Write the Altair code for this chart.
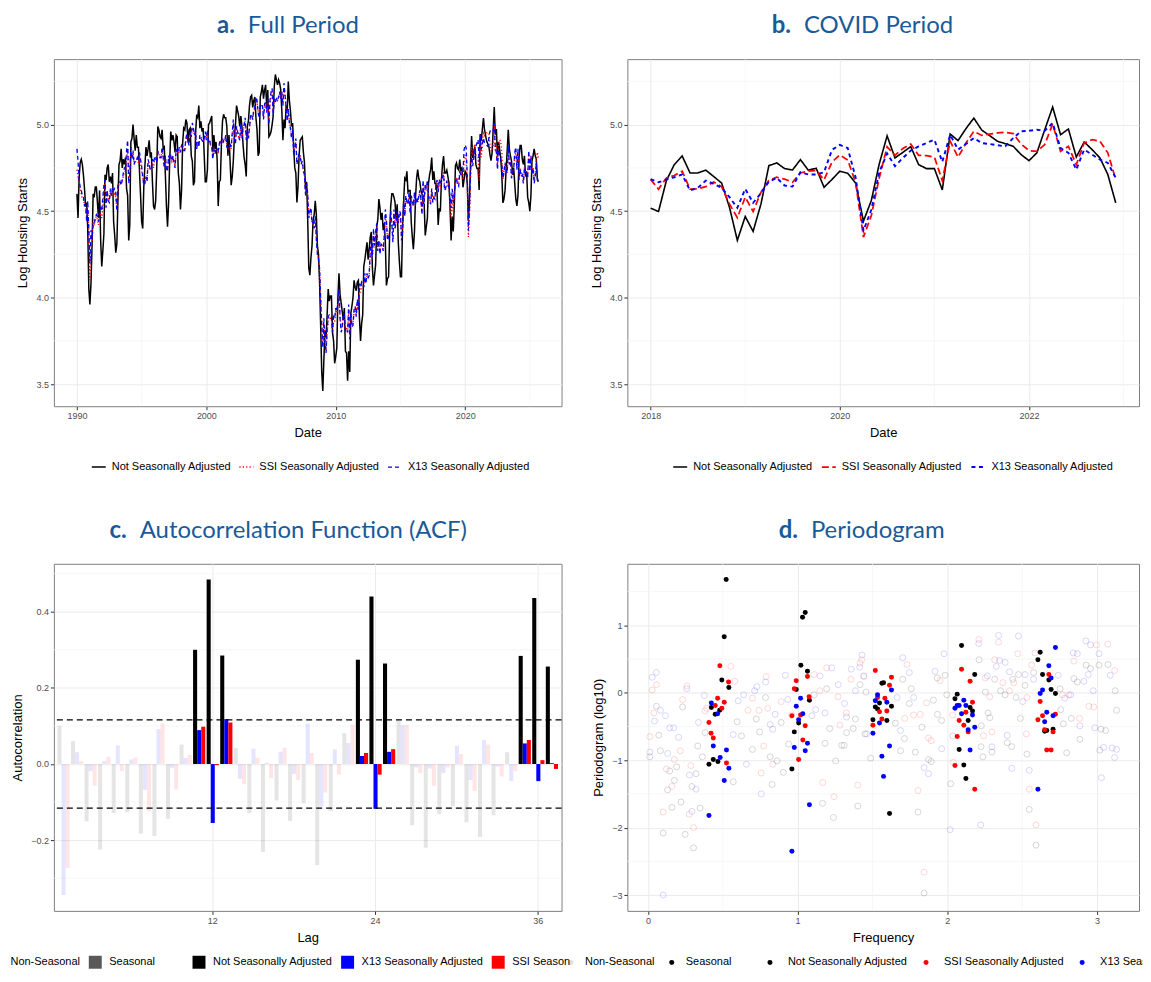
import altair as alt
import pandas as pd

# ------------------------------------------------------------------ styling
AX_FONT = "Liberation Sans"
TITLE_FONT = "Lato"
TITLE_COLOR = "#1a5a99"
MAJOR_GRID = "#ebebeb"
MINOR_GRID = "#f4f4f4"

S_NSA = "Not Seasonally Adjusted"
S_SSI = "SSI Seasonally Adjusted"
S_X13 = "X13 Seasonally Adjusted"
K_NON = "Non-Seasonal"
K_SEA = "Seasonal"

# ------------------------------------------------------------------ data
# Log housing starts, monthly, starting January 1990
START_YEAR = 1990
nsa_log = [
    4.60, 4.46, 4.69, 4.78, 4.80, 4.77, 4.71, 4.63, 4.53, 4.55, 4.40, 4.05,
    3.96, 4.08, 4.30, 4.60, 4.58, 4.64, 4.64, 4.55, 4.46, 4.62, 4.33, 4.18,
    4.27, 4.37, 4.71, 4.68, 4.75, 4.77, 4.67, 4.70, 4.66, 4.72, 4.44, 4.36,
    4.26, 4.31, 4.56, 4.77, 4.79, 4.86, 4.75, 4.80, 4.77, 4.81, 4.63, 4.59,
    4.33, 4.42, 4.90, 4.92, 5.00, 4.92, 4.85, 4.94, 4.87, 4.87, 4.73, 4.59,
    4.44, 4.40, 4.64, 4.76, 4.87, 4.82, 4.86, 4.91, 4.81, 4.84, 4.67, 4.53,
    4.51, 4.56, 4.75, 4.99, 4.97, 4.93, 4.92, 4.97, 4.86, 4.87, 4.71, 4.53,
    4.41, 4.55, 4.79, 4.96, 4.91, 4.94, 4.90, 4.84, 4.94, 4.93, 4.72, 4.66,
    4.51, 4.62, 4.89, 4.98, 4.97, 5.03, 5.01, 4.90, 4.97, 4.98, 4.82, 4.79,
    4.65, 4.67, 4.95, 5.05, 5.04, 5.11, 4.98, 5.02, 4.96, 4.98, 4.83, 4.67,
    4.67, 4.74, 5.00, 5.01, 5.03, 5.05, 4.84, 4.94, 4.86, 4.90, 4.80, 4.53,
    4.67, 4.68, 4.89, 5.02, 5.06, 5.04, 5.04, 4.99, 4.82, 4.94, 4.79, 4.65,
    4.70, 4.79, 4.93, 5.00, 5.11, 5.08, 5.05, 4.99, 5.05, 4.99, 4.89, 4.81,
    4.77, 4.70, 4.99, 5.02, 5.11, 5.16, 5.17, 5.10, 5.14, 5.16, 5.04, 4.97,
    4.82, 4.84, 5.16, 5.19, 5.23, 5.15, 5.20, 5.23, 5.10, 5.20, 4.93, 4.94,
    4.96, 5.00, 5.05, 5.22, 5.29, 5.26, 5.23, 5.26, 5.24, 5.20, 5.08, 4.91,
    5.03, 4.98, 5.11, 5.08, 5.25, 5.14, 5.08, 4.99, 5.01, 4.87, 4.75, 4.72,
    4.55, 4.64, 4.82, 4.91, 4.92, 4.93, 4.84, 4.78, 4.63, 4.67, 4.45, 4.17,
    4.13, 4.23, 4.30, 4.45, 4.48, 4.56, 4.48, 4.30, 4.25, 4.09, 3.84, 3.57,
    3.46, 3.64, 3.81, 3.77, 3.90, 4.05, 3.98, 4.01, 4.01, 3.80, 3.75, 3.62,
    3.66, 3.71, 4.00, 4.14, 4.02, 3.97, 3.92, 3.87, 3.94, 3.69, 3.68, 3.52,
    3.69, 3.57, 3.91, 3.95, 4.00, 4.10, 4.06, 4.04, 4.09, 4.10, 3.88, 3.75,
    3.85, 3.90, 4.18, 4.22, 4.27, 4.32, 4.22, 4.28, 4.35, 4.38, 4.17, 4.07,
    4.13, 4.19, 4.41, 4.45, 4.57, 4.52, 4.45, 4.49, 4.39, 4.43, 4.32, 4.07,
    4.11, 4.12, 4.37, 4.53, 4.60, 4.60, 4.58, 4.55, 4.45, 4.54, 4.32, 4.21,
    4.12, 4.12, 4.42, 4.56, 4.69, 4.68, 4.73, 4.61, 4.62, 4.62, 4.44, 4.35,
    4.28, 4.38, 4.58, 4.69, 4.74, 4.69, 4.67, 4.62, 4.60, 4.55, 4.54, 4.36,
    4.41, 4.46, 4.66, 4.71, 4.74, 4.81, 4.68, 4.73, 4.66, 4.66, 4.60, 4.42,
    4.517, 4.498, 4.677, 4.769, 4.819, 4.721, 4.721, 4.737, 4.700, 4.663, 4.523, 4.331,
    4.469, 4.383, 4.542, 4.763, 4.779, 4.746, 4.738, 4.798, 4.737, 4.748, 4.638, 4.683,
    4.731, 4.719, 4.663, 4.442, 4.562, 4.773, 4.935, 4.808, 4.840, 4.873, 4.769, 4.746,
    4.746, 4.623, 4.946, 4.908, 4.977, 5.038, 4.969, 4.937, 4.904, 4.890, 4.875, 4.827,
    4.792, 4.837, 4.971, 5.102, 4.942, 4.975, 4.813, 4.900, 4.856, 4.808, 4.712, 4.548,
    4.57, 4.62, 4.74, 4.85, 4.97, 4.86, 4.82, 4.79, 4.71, 4.75, 4.66, 4.57,
    4.53, 4.59, 4.81, 4.88, 4.88, 4.80, 4.77, 4.82, 4.70, 4.73, 4.58, 4.55,
    4.50, 4.59, 4.79, 4.82, 4.86, 4.82, 4.80, 4.68, 4.67,
]
ssi_log = [
    4.74, 4.70, 4.66, 4.63, 4.60, 4.57, 4.57, 4.54, 4.52, 4.47, 4.50, 4.40,
    4.10, 4.28, 4.33, 4.45, 4.43, 4.46, 4.47, 4.45, 4.42, 4.49, 4.48, 4.46,
    4.53, 4.61, 4.66, 4.55, 4.62, 4.57, 4.56, 4.61, 4.59, 4.63, 4.59, 4.60,
    4.58, 4.51, 4.62, 4.66, 4.66, 4.66, 4.68, 4.70, 4.73, 4.73, 4.80, 4.86,
    4.68, 4.72, 4.84, 4.82, 4.84, 4.78, 4.78, 4.80, 4.80, 4.78, 4.82, 4.78,
    4.73, 4.70, 4.66, 4.67, 4.70, 4.68, 4.78, 4.78, 4.74, 4.74, 4.78, 4.75,
    4.80, 4.80, 4.79, 4.85, 4.83, 4.81, 4.81, 4.86, 4.81, 4.76, 4.80, 4.73,
    4.74, 4.80, 4.81, 4.82, 4.79, 4.81, 4.79, 4.76, 4.85, 4.84, 4.83, 4.85,
    4.85, 4.88, 4.88, 4.86, 4.85, 4.91, 4.94, 4.90, 4.89, 4.95, 4.93, 4.98,
    4.97, 4.94, 4.96, 4.88, 4.90, 4.88, 4.93, 4.93, 4.91, 4.90, 4.92, 4.94,
    4.92, 4.96, 4.91, 4.91, 4.88, 4.87, 4.82, 4.86, 4.84, 4.86, 4.86, 4.83,
    4.88, 4.90, 4.89, 4.92, 4.90, 4.91, 4.93, 4.88, 4.86, 4.86, 4.88, 4.86,
    4.94, 5.00, 4.93, 4.90, 4.98, 4.96, 4.93, 4.92, 5.00, 4.93, 4.97, 4.99,
    5.02, 4.93, 4.97, 4.93, 4.98, 5.04, 5.06, 5.03, 5.08, 5.09, 5.14, 5.13,
    5.08, 5.06, 5.11, 5.11, 5.11, 5.04, 5.11, 5.13, 5.08, 5.14, 5.02, 5.12,
    5.17, 5.19, 5.08, 5.15, 5.14, 5.15, 5.14, 5.16, 5.18, 5.15, 5.18, 5.12,
    5.21, 5.17, 5.11, 5.04, 5.09, 5.02, 4.98, 4.93, 4.96, 4.84, 4.86, 4.90,
    4.78, 4.80, 4.82, 4.82, 4.78, 4.78, 4.73, 4.71, 4.61, 4.65, 4.60, 4.48,
    4.49, 4.50, 4.43, 4.43, 4.40, 4.45, 4.34, 4.26, 4.22, 4.16, 4.00, 3.86,
    3.72, 3.84, 3.76, 3.70, 3.80, 3.87, 3.89, 3.88, 3.88, 3.80, 3.86, 3.86,
    3.92, 3.91, 3.96, 4.02, 3.89, 3.82, 3.83, 3.90, 3.89, 3.82, 3.82, 3.80,
    3.93, 3.79, 3.90, 3.85, 3.85, 3.92, 3.94, 3.90, 3.97, 3.93, 4.05, 4.03,
    4.07, 4.06, 4.07, 4.12, 4.09, 4.13, 4.11, 4.13, 4.24, 4.30, 4.24, 4.36,
    4.29, 4.35, 4.41, 4.29, 4.33, 4.27, 4.31, 4.30, 4.28, 4.35, 4.47, 4.43,
    4.34, 4.35, 4.39, 4.47, 4.43, 4.34, 4.49, 4.40, 4.44, 4.48, 4.43, 4.48,
    4.48, 4.36, 4.40, 4.55, 4.48, 4.58, 4.55, 4.54, 4.59, 4.50, 4.57, 4.55,
    4.53, 4.59, 4.54, 4.57, 4.55, 4.58, 4.61, 4.56, 4.50, 4.66, 4.56, 4.64,
    4.62, 4.66, 4.60, 4.57, 4.55, 4.62, 4.56, 4.58, 4.58, 4.65, 4.67, 4.62,
    4.683, 4.627, 4.692, 4.706, 4.731, 4.627, 4.629, 4.642, 4.669, 4.642, 4.542, 4.462,
    4.581, 4.498, 4.610, 4.677, 4.696, 4.685, 4.667, 4.721, 4.731, 4.735, 4.681, 4.783,
    4.825, 4.796, 4.667, 4.350, 4.475, 4.692, 4.872, 4.823, 4.862, 4.888, 4.823, 4.821,
    4.812, 4.677, 4.904, 4.812, 4.894, 4.962, 4.938, 4.946, 4.952, 4.956, 4.948, 4.888,
    4.850, 4.846, 4.885, 5.004, 4.846, 4.875, 4.769, 4.894, 4.913, 4.904, 4.837, 4.683,
    4.73, 4.77, 4.75, 4.73, 4.86, 4.77, 4.79, 4.70, 4.73, 4.75, 4.82, 4.84,
    4.75, 4.84, 4.70, 4.75, 4.72, 4.72, 4.68, 4.75, 4.73, 4.73, 4.71, 4.83,
    4.74, 4.81, 4.72, 4.75, 4.68, 4.71, 4.80, 4.84, 4.80,
]
x13_log = [
    4.86, 4.79, 4.68, 4.64, 4.62, 4.59, 4.58, 4.53, 4.53, 4.44, 4.56, 4.39,
    4.20, 4.39, 4.34, 4.42, 4.42, 4.46, 4.48, 4.47, 4.44, 4.50, 4.52, 4.50,
    4.58, 4.65, 4.68, 4.52, 4.62, 4.56, 4.55, 4.63, 4.59, 4.64, 4.62, 4.63,
    4.61, 4.50, 4.65, 4.65, 4.67, 4.65, 4.68, 4.72, 4.75, 4.74, 4.85, 4.91,
    4.66, 4.71, 4.87, 4.80, 4.85, 4.77, 4.79, 4.79, 4.81, 4.79, 4.84, 4.80,
    4.76, 4.70, 4.65, 4.66, 4.70, 4.67, 4.80, 4.77, 4.74, 4.74, 4.80, 4.78,
    4.81, 4.82, 4.78, 4.84, 4.83, 4.81, 4.81, 4.87, 4.81, 4.75, 4.82, 4.74,
    4.73, 4.82, 4.80, 4.82, 4.79, 4.82, 4.78, 4.75, 4.86, 4.84, 4.84, 4.87,
    4.84, 4.88, 4.87, 4.85, 4.85, 4.92, 4.95, 4.90, 4.88, 4.96, 4.93, 5.01,
    4.98, 4.94, 4.96, 4.86, 4.90, 4.87, 4.94, 4.92, 4.91, 4.90, 4.92, 4.96,
    4.91, 4.97, 4.90, 4.91, 4.88, 4.87, 4.80, 4.86, 4.83, 4.86, 4.86, 4.85,
    4.89, 4.91, 4.89, 4.92, 4.90, 4.91, 4.94, 4.87, 4.87, 4.85, 4.89, 4.87,
    4.95, 5.03, 4.92, 4.89, 4.99, 4.96, 4.93, 4.91, 5.01, 4.92, 4.98, 5.00,
    5.04, 4.91, 4.97, 4.92, 4.98, 5.05, 5.06, 5.03, 5.09, 5.10, 5.16, 5.14,
    5.07, 5.04, 5.11, 5.12, 5.11, 5.03, 5.12, 5.13, 5.07, 5.15, 5.00, 5.14,
    5.19, 5.21, 5.05, 5.15, 5.13, 5.15, 5.14, 5.16, 5.19, 5.15, 5.19, 5.11,
    5.24, 5.17, 5.10, 5.02, 5.09, 5.01, 4.98, 4.92, 4.97, 4.82, 4.87, 4.92,
    4.77, 4.81, 4.83, 4.82, 4.77, 4.79, 4.73, 4.71, 4.59, 4.66, 4.60, 4.46,
    4.50, 4.52, 4.43, 4.44, 4.40, 4.47, 4.34, 4.25, 4.22, 4.17, 3.99, 3.84,
    3.71, 3.88, 3.74, 3.68, 3.81, 3.89, 3.90, 3.89, 3.89, 3.80, 3.89, 3.88,
    3.94, 3.92, 3.97, 4.05, 3.88, 3.80, 3.82, 3.91, 3.90, 3.81, 3.82, 3.80,
    3.96, 3.76, 3.91, 3.83, 3.84, 3.93, 3.95, 3.89, 3.99, 3.93, 4.08, 4.06,
    4.09, 4.08, 4.06, 4.14, 4.08, 4.14, 4.11, 4.13, 4.27, 4.33, 4.24, 4.40,
    4.30, 4.38, 4.43, 4.27, 4.33, 4.25, 4.31, 4.30, 4.27, 4.36, 4.51, 4.45,
    4.33, 4.35, 4.39, 4.50, 4.43, 4.32, 4.51, 4.40, 4.44, 4.50, 4.43, 4.50,
    4.49, 4.33, 4.38, 4.57, 4.47, 4.59, 4.55, 4.54, 4.61, 4.49, 4.59, 4.56,
    4.53, 4.61, 4.53, 4.58, 4.55, 4.59, 4.62, 4.56, 4.48, 4.68, 4.55, 4.66,
    4.63, 4.68, 4.59, 4.56, 4.54, 4.63, 4.55, 4.58, 4.57, 4.66, 4.68, 4.61,
    4.685, 4.667, 4.683, 4.696, 4.712, 4.619, 4.635, 4.677, 4.658, 4.635, 4.581, 4.519,
    4.629, 4.548, 4.604, 4.671, 4.692, 4.648, 4.642, 4.725, 4.712, 4.712, 4.725, 4.854,
    4.883, 4.865, 4.696, 4.388, 4.508, 4.725, 4.834, 4.760, 4.808, 4.850, 4.875, 4.894,
    4.913, 4.785, 4.942, 4.856, 4.888, 4.923, 4.894, 4.888, 4.881, 4.875, 4.923, 4.962,
    4.965, 4.971, 4.965, 5.010, 4.865, 4.837, 4.740, 4.856, 4.827, 4.798, 4.779, 4.692,
    4.72, 4.78, 4.74, 4.72, 4.88, 4.77, 4.79, 4.69, 4.73, 4.74, 4.84, 4.87,
    4.74, 4.86, 4.68, 4.74, 4.70, 4.71, 4.66, 4.74, 4.73, 4.72, 4.69, 4.85,
    4.73, 4.82, 4.71, 4.75, 4.66, 4.70, 4.78, 4.69, 4.67,
]
COVID_FROM, COVID_TO = 2018, 2023   # panel b shows Jan 2018 - Dec 2022

# Autocorrelation function, lags 1..37
acf_lags = list(range(1, 38))
acf_nsa = [0.100, 0.060, -0.151, -0.225, -0.129, -0.127, -0.183, -0.189, -0.144, 0.051,
           0.300, 0.485, 0.285, 0.042, -0.129, -0.231, -0.096, -0.150, -0.103, -0.266,
           -0.124, 0.081, 0.274, 0.440, 0.264, 0.113, -0.161, -0.220, -0.132, -0.112,
           -0.153, -0.192, -0.135, 0.031, 0.284, 0.436, 0.256]
acf_x13 = [-0.344, 0.031, -0.019, 0.007, 0.049, 0.012, -0.068, 0.092, -0.010, 0.016,
           0.089, -0.155, 0.118, -0.039, 0.040, 0.003, 0.032, -0.026, 0.106, -0.112,
           0.038, 0.055, 0.021, -0.118, 0.032, 0.102, -0.009, -0.012, -0.024, 0.048,
           -0.042, 0.063, -0.007, -0.045, 0.054, -0.045, 0.002]
acf_ssi = [-0.273, 0.008, -0.057, 0.019, -0.019, 0.017, -0.124, 0.107, -0.067, 0.024,
           0.098, -0.003, 0.109, -0.053, 0.016, -0.037, 0.043, -0.042, 0.029, -0.075,
           -0.028, 0.102, 0.029, -0.028, 0.039, 0.102, -0.024, -0.057, -0.009, 0.026,
           -0.071, 0.051, -0.033, -0.019, 0.063, 0.010, -0.013]
seasonal_lags = [11, 12, 13, 23, 24, 25, 35, 36, 37]
acf_ci = 0.116

# Periodogram (log10) points: (frequency, value)
pg_nsa_seasonal = [
    (0.523, 1.68), (0.510, 0.83), (0.494, 0.19), (0.541, 0.08), (0.424, -0.22), (0.450, -0.32),
    (0.480, -0.26), (0.408, -1.06), (0.437, -0.99), (0.468, -1.02),
    (1.033, 1.12), (1.051, 1.19), (1.022, 0.41), (1.066, 0.32), (0.991, 0.05), (1.079, -0.11),
    (1.007, -0.45), (0.978, -0.58), (0.962, -1.13),
    (1.563, 0.14), (1.574, 0.15), (1.519, -0.21), (1.534, -0.24), (1.547, -0.15), (1.503, -0.40),
    (1.627, -0.20), (1.596, -0.41), (1.614, -1.79),
    (2.095, 0.70), (2.183, 0.27), (2.066, -0.02), (2.051, -0.09), (2.152, -0.22), (2.168, -0.27),
    (2.139, -0.41), (2.079, -0.84), (2.110, -1.07), (2.124, -1.27),
    (2.620, 0.60), (2.605, 0.49), (2.636, 0.27), (2.678, 0.19), (2.693, 0.05), (2.722, -0.01),
    (2.650, -0.57), (2.664, -0.56), (2.706, -0.54),
]
pg_ssi_seasonal = [
    (0.481, 0.40), (0.539, 0.16), (0.466, -0.08), (0.510, -0.14), (0.450, -0.19), (0.494, -0.23),
    (0.408, -0.44), (0.422, -0.60), (0.437, -0.67), (0.525, -1.04),
    (0.991, 0.18), (1.066, 0.24), (0.978, 0.06), (1.077, -0.06), (0.962, -0.34), (1.020, -0.33),
    (1.051, -0.49), (1.035, -0.70), (1.007, -0.99),
    (1.519, 0.33), (1.534, -0.07), (1.547, -0.28), (1.563, -0.39), (1.503, -0.48), (1.627, 0.23),
    (1.614, 0.11), (1.583, -0.08), (1.596, -0.27),
    (2.095, 0.35), (2.152, 0.17), (2.168, -0.14), (2.124, -0.29), (2.079, -0.41), (2.110, -0.48),
    (2.139, -0.58), (2.066, -0.65), (2.051, -1.08), (2.183, -1.43),
    (2.678, 0.27), (2.620, -0.13), (2.636, -0.34), (2.605, -0.40), (2.650, -0.55), (2.706, -0.58),
    (2.722, -0.32), (2.664, -0.85), (2.693, -0.85),
]
pg_x13_seasonal = [
    (0.424, -0.15), (0.466, -0.31), (0.437, -0.79), (0.525, -0.85), (0.483, -0.96), (0.541, -1.12),
    (0.510, -1.30), (0.408, -1.82),
    (1.020, -0.08), (0.991, -0.20), (1.035, -0.31), (1.007, -0.40), (1.066, -0.75), (0.978, -0.81),
    (1.051, -0.86), (1.079, -1.66), (0.962, -2.35),
    (1.534, -0.03), (1.519, -0.12), (1.547, -0.45), (1.503, -0.60), (1.563, -0.94), (1.574, -1.24),
    (1.627, 0.04), (1.596, -0.14), (1.614, -0.79),
    (2.051, -0.23), (2.066, -0.19), (2.079, -0.19), (2.110, -0.11), (2.124, -0.19), (2.095, -0.31),
    (2.168, -0.33), (2.183, -0.51), (2.139, -0.55), (2.152, -0.85),
    (2.722, 0.67), (2.678, 0.40), (2.693, 0.22), (2.636, 0.04), (2.620, -0.01), (2.664, -0.29),
    (2.706, -0.34), (2.650, -0.43), (2.605, -1.43),
]
pg_nsa_other = [
    (0.057, -0.20), (0.073, -0.63), (0.013, -0.95), (0.084, -0.86), (0.132, -1.44), (0.102, -2.08),
    (0.161, -1.70), (0.146, -1.16), (0.192, -1.10), (0.177, -1.30), (0.232, -0.21), (0.221, -1.62),
    (0.249, -2.10), (0.305, -2.30), (0.294, -1.39), (0.322, -1.20), (0.349, -1.71), (0.333, -0.79),
    (0.364, -0.95), (0.382, -0.59), (0.570, -1.32), (0.596, -0.43), (0.625, -0.64), (0.698, -0.84),
    (0.724, -0.39), (0.746, -0.58), (0.786, -0.07), (0.817, -0.95), (0.830, -1.36), (0.863, -1.01),
    (0.890, -0.44), (0.905, -1.18), (0.940, -0.76), (1.095, -0.34), (1.110, -0.03), (1.166, -1.64),
    (1.183, -0.75), (1.194, 0.06), (1.214, -0.53), (1.240, -1.85), (1.254, -1.01), (1.294, -0.78),
    (1.310, -0.78), (1.327, -0.59), (1.371, -0.53), (1.386, -0.39), (1.402, -1.68), (1.417, 0.12),
    (1.457, 0.01), (1.450, -0.61), (1.488, -0.97),
    (1.759, 0.06), (1.702, 0.20), (1.653, -0.45), (1.713, -0.68), (1.687, -0.86), (1.746, -0.16),
    (1.786, -0.88), (1.804, -1.77), (1.830, -0.51), (1.845, -2.97), (1.874, -0.99), (1.892, -1.02),
    (1.907, -0.11), (1.932, 0.22), (1.962, -0.41), (1.985, 0.26), (1.934, -0.32), (1.996, -0.03),
    (2.022, -1.35), (2.037, -0.64), (2.212, 0.49), (2.225, -0.80), (2.238, -0.95), (2.227, -0.49),
    (2.254, 0.01), (2.272, -0.30), (2.283, -0.37), (2.298, -0.88), (2.316, 0.20), (2.355, 0.03),
    (2.386, -0.03), (2.400, -0.74), (2.430, -0.80), (2.437, 0.20), (2.459, -0.07), (2.475, 0.27),
    (2.488, -0.38), (2.519, 0.11), (2.532, -0.91), (2.547, -1.73), (2.576, 0.30), (2.592, -2.26),
    (2.753, 0.06), (2.757, -0.25), (2.775, -0.46), (2.797, -0.89), (2.828, -0.38), (2.845, 0.21),
    (2.868, 0.16), (2.885, -0.69), (2.927, 0.41), (2.956, 0.36), (3.013, 0.41), (3.018, -0.85),
    (3.026, -0.54), (3.057, -0.56), (3.073, 0.42), (3.121, 0.03), (3.130, -0.26),
]
pg_ssi_other = [
    (0.013, -0.65), (0.029, 0.04), (0.057, 0.12), (0.040, -0.30), (0.102, -1.77), (0.124, -1.13),
    (0.161, -1.39), (0.177, -0.99), (0.216, -0.86), (0.232, -0.10), (0.260, 0.10), (0.276, -1.80),
    (0.287, -1.08), (0.305, -2.00), (0.382, -0.27), (0.393, -0.23), (0.554, 0.39), (0.580, 0.17),
    (0.669, -0.26), (0.698, -0.08), (0.742, -0.26), (0.757, -1.19), (0.773, -0.79), (0.790, 0.24),
    (0.801, -0.23), (0.834, -1.06), (0.890, -0.13), (0.960, -0.33), (1.110, 0.27), (1.148, 0.03),
    (1.168, -1.33), (1.194, 0.37), (1.243, -1.54), (1.270, -0.06), (1.283, -0.48), (1.325, -0.30),
    (1.356, 0.20), (1.402, -1.37), (1.417, 0.44), (1.428, 0.49), (1.444, 0.24),
    (1.731, 0.42), (1.715, -0.38), (1.775, -0.33), (1.804, -1.45), (1.819, -0.32), (1.845, -2.66),
    (1.861, -0.15), (1.874, -0.67), (1.892, -0.71), (1.951, 0.18), (2.035, -0.33), (2.040, -1.03),
    (2.210, 0.79), (2.241, -0.64), (2.254, 0.22), (2.283, -0.06), (2.298, -0.58), (2.316, 0.49),
    (2.342, 0.75), (2.371, 0.15), (2.415, 0.03), (2.444, 0.15), (2.470, 0.58), (2.532, -0.07),
    (2.528, -0.61), (2.547, -1.43), (2.563, 0.41), (2.585, 0.59), (2.592, -1.96), (2.768, -0.03),
    (2.812, -0.03), (2.845, 0.47), (2.883, -0.38), (2.945, -0.20), (2.978, -0.21), (2.996, 0.71),
    (3.071, 0.72), (3.117, 0.33),
]
pg_x13_other = [
    (0.029, 0.23), (0.057, 0.30), (0.044, -0.42), (0.084, -0.26), (0.117, -0.34), (0.013, -0.88),
    (0.132, -0.90), (0.146, -0.52), (0.172, -0.52), (0.205, -0.66), (0.260, 0.06), (0.278, -1.22),
    (0.294, -1.76), (0.322, -1.43), (0.338, -0.44), (0.377, -0.04), (0.102, -3.00), (0.570, -0.62),
    (0.603, -0.12), (0.640, -0.03), (0.658, -1.06), (0.713, 0.03), (0.728, 0.09), (0.757, -1.50),
    (0.786, 0.16), (0.817, -0.47), (0.834, -0.54), (0.850, -0.32), (0.918, 0.26), (0.934, -0.10),
    (1.121, -0.25), (1.150, 0.25), (1.183, -0.30), (1.227, 0.37), (1.271, 0.12), (1.313, -0.16),
    (1.327, -0.36), (1.358, 0.35), (1.386, 0.03), (1.415, 0.38), (1.430, 0.56), (1.441, 0.25),
    (1.461, -0.61),
    (1.702, 0.52), (1.746, 0.30), (1.664, -0.07), (1.687, -0.56), (1.775, -0.07), (1.845, -1.11),
    (1.874, -1.20), (1.918, 0.32), (1.978, 0.58), (1.962, -0.83), (2.018, -2.03), (2.210, 0.73),
    (2.223, -1.96), (2.267, 0.25), (2.298, -0.80), (2.327, 0.39), (2.342, 0.85), (2.349, 0.48),
    (2.386, 0.45), (2.400, -0.63), (2.415, 0.31), (2.430, -1.12), (2.475, 0.84), (2.503, -0.13),
    (2.519, 0.27), (2.547, -1.15), (2.576, 0.20), (2.740, 0.26), (2.784, -0.08), (2.823, -0.03),
    (2.841, 0.59), (2.868, 0.58), (2.885, -0.49), (2.912, 0.17), (2.925, 0.77), (2.941, 0.27),
    (2.956, 0.71), (2.974, 0.03), (2.985, -0.52), (3.013, 0.58), (3.029, -1.26), (3.044, -0.81),
    (3.088, 0.26), (3.101, -0.82), (3.117, -0.96), (3.130, -0.84),
]

# axis breaks / gridlines
ab_y_major = [3.5, 4.0, 4.5, 5.0]
ab_y_minor = [3.75, 4.25, 4.75, 5.25]
a_x_major = [1990, 2000, 2010, 2020]
a_x_minor = [1995, 2005, 2015, 2025]
b_x_major = [2018, 2020, 2022]
b_x_minor = [2019, 2021, 2023]
c_x_major = [12, 24, 36]
c_y_major = [-0.2, 0.0, 0.2, 0.4]
c_y_minor = [-0.3, -0.1, 0.1, 0.3, 0.5]
d_x_major = [0, 1, 2, 3]
d_x_minor = [0.5, 1.5, 2.5]
d_y_major = [-3, -2, -1, 0, 1]
d_y_minor = [-2.5, -1.5, -0.5, 0.5, 1.5]

panel_titles = [("a.", "Full Period"), ("b.", "COVID Period"),
                ("c.", "Autocorrelation Function (ACF)"), ("d.", "Periodogram")]

# ------------------------------------------------------------------ layout
W_LEFT, W_RIGHT, H = 509, 513, 348
TITLE_POS = {"a.": (181.5, 194.5), "b.": (164, 177), "c.": (73, 86), "d.": (171, 184)}
TITLE_Y = -26
LEG_Y_TOP, LEG_Y_BOTTOM = 401, 393

# ------------------------------------------------------------------ frames
rows = []
for name, vals in [(S_NSA, nsa_log), (S_SSI, ssi_log), (S_X13, x13_log)]:
    for i, v in enumerate(vals):
        rows.append({"t": START_YEAR + i / 12.0, "value": v, "series": name})
ts = pd.DataFrame(rows)
ts_b = ts[(ts["t"] >= COVID_FROM) & (ts["t"] < COVID_TO - 1e-9)].copy()

acf_rows = []
for name, vals in [(S_NSA, acf_nsa), (S_X13, acf_x13), (S_SSI, acf_ssi)]:
    for lag, v in zip(acf_lags, vals):
        acf_rows.append({"lag": lag, "series": name, "acf": v,
                         "kind": K_SEA if lag in seasonal_lags else K_NON})
acf_df = pd.DataFrame(acf_rows)

pg_s_rows, pg_n_rows = [], []
for name, pts in [(S_NSA, pg_nsa_seasonal), (S_SSI, pg_ssi_seasonal), (S_X13, pg_x13_seasonal)]:
    for f, v in pts:
        pg_s_rows.append({"freq": f, "pg": v, "series": name, "kind": K_SEA})
for name, pts in [(S_NSA, pg_nsa_other), (S_SSI, pg_ssi_other), (S_X13, pg_x13_other)]:
    for f, v in pts:
        pg_n_rows.append({"freq": f, "pg": v, "series": name, "kind": K_NON})
pg_s = pd.DataFrame(pg_s_rows)
pg_n = pd.DataFrame(pg_n_rows)


# ------------------------------------------------------------------ helpers
def title_layers(tag, name):
    xt, xn = TITLE_POS[tag]
    d = pd.DataFrame({"tag": [tag], "name": [name]})
    t1 = alt.Chart(d).mark_text(font=TITLE_FONT, fontSize=24, fontWeight="bold", color=TITLE_COLOR,
                                align="right", baseline="alphabetic").encode(
        x=alt.value(xt), y=alt.value(TITLE_Y), text="tag:N")
    t2 = alt.Chart(d).mark_text(font=TITLE_FONT, fontSize=24, fontWeight="normal", color=TITLE_COLOR,
                                align="left", baseline="alphabetic").encode(
        x=alt.value(xn), y=alt.value(TITLE_Y), text="name:N")
    return [t1, t2]


def hgrid(vals, scale, axis):
    return alt.Chart(pd.DataFrame({"gy": vals})).mark_rule(color=MINOR_GRID, strokeWidth=0.7).encode(
        y=alt.Y("gy:Q", scale=scale, axis=axis))


def vgrid(vals, scale, axis):
    return alt.Chart(pd.DataFrame({"gx": vals})).mark_rule(color=MINOR_GRID, strokeWidth=0.7).encode(
        x=alt.X("gx:Q", scale=scale, axis=axis))


def line_legend(x):
    return alt.Legend(orient="none", legendX=x, legendY=LEG_Y_TOP, direction="horizontal", title=None,
                      symbolType="stroke", symbolSize=196, symbolStrokeWidth=1.5,
                      labelOffset=5, columnPadding=5, padding=0)


SER_LINE = [S_NSA, S_SSI, S_X13]
COL_LINE = ["#000000", "#ff0000", "#0000ff"]

# ------------------------------------------------------------------ panel a
sx_a = alt.Scale(domain=[1988.217, 2027.45], nice=False, zero=False)
sy_ab = alt.Scale(domain=[3.372, 5.379], nice=False, zero=False)
ax_a_x = alt.Axis(values=a_x_major, format="d", title="Date")
ax_ab_y = alt.Axis(values=ab_y_major, format=".1f", title="Log Housing Starts")
leg_a = line_legend(37)
lines_a = alt.Chart(ts).mark_line().encode(
    x=alt.X("t:Q", scale=sx_a, axis=ax_a_x),
    y=alt.Y("value:Q", scale=sy_ab, axis=ax_ab_y),
    color=alt.Color("series:N", scale=alt.Scale(domain=SER_LINE, range=COL_LINE), legend=leg_a),
    strokeDash=alt.StrokeDash("series:N", scale=alt.Scale(domain=SER_LINE, range=[[1, 0], [1.2, 2.2], [4, 3]]),
                              legend=leg_a),
    strokeWidth=alt.StrokeWidth("series:N", scale=alt.Scale(domain=SER_LINE, range=[1.5, 1.3, 1.3]),
                                legend=None),
)
panel_a = alt.layer(vgrid(a_x_minor, sx_a, ax_a_x), hgrid(ab_y_minor, sy_ab, ax_ab_y), lines_a,
                    *title_layers(*panel_titles[0])).properties(width=W_LEFT, height=H)

# ------------------------------------------------------------------ panel b
sx_b = alt.Scale(domain=[2017.754, 2023.163], nice=False, zero=False)
ax_b_x = alt.Axis(values=b_x_major, format="d", title="Date")
leg_b = line_legend(45)
lines_b = alt.Chart(ts_b).mark_line().encode(
    x=alt.X("t:Q", scale=sx_b, axis=ax_b_x),
    y=alt.Y("value:Q", scale=sy_ab, axis=ax_ab_y),
    color=alt.Color("series:N", scale=alt.Scale(domain=SER_LINE, range=COL_LINE), legend=leg_b),
    strokeDash=alt.StrokeDash("series:N", scale=alt.Scale(domain=SER_LINE, range=[[1, 0], [7, 3.5], [4, 3.5]]),
                              legend=leg_b),
    strokeWidth=alt.StrokeWidth("series:N", scale=alt.Scale(domain=SER_LINE, range=[1.6, 1.9, 1.9]),
                                legend=None),
)
panel_b = alt.layer(vgrid(b_x_minor, sx_b, ax_b_x), hgrid(ab_y_minor, sy_ab, ax_ab_y), lines_b,
                    *title_layers(*panel_titles[1])).properties(width=W_RIGHT, height=H)

# ------------------------------------------------------------------ panel c
SER_C = [S_NSA, S_X13, S_SSI]
sy_c = alt.Scale(domain=[-0.386, 0.526], nice=False, zero=False)
ax_c_y = alt.Axis(values=c_y_major, format=".1f", title="Autocorrelation")
bars = alt.Chart(acf_df).mark_bar().encode(
    x=alt.X("lag:O", scale=alt.Scale(domain=acf_lags, paddingInner=0.1, paddingOuter=0.26),
            axis=alt.Axis(values=c_x_major, labelAngle=0, title="Lag", bandPosition=0.5, grid=True)),
    xOffset=alt.XOffset("series:N", scale=alt.Scale(domain=SER_C, paddingInner=0, paddingOuter=0)),
    y=alt.Y("acf:Q", scale=sy_c, axis=ax_c_y),
    y2=alt.datum(0),
    color=alt.Color("series:N", scale=alt.Scale(domain=SER_C, range=["#000000", "#0000ff", "#ff0000"]),
                    legend=alt.Legend(orient="none", legendX=139, legendY=LEG_Y_BOTTOM, direction="horizontal",
                                      title=None, symbolType="square", symbolSize=169, symbolStrokeWidth=0,
                                      labelOffset=7.5, columnPadding=8, padding=0,
                                      labelExpr="datum.label == 'SSI Seasonally Adjusted' ? 'SSI Season' : datum.label")),
    opacity=alt.Opacity("kind:N", scale=alt.Scale(domain=[K_NON, K_SEA], range=[0.1, 1.0]),
                        legend=alt.Legend(orient="none", legendX=-64, legendY=LEG_Y_BOTTOM, direction="horizontal",
                                          title=None, symbolType="square", symbolSize=169,
                                          symbolFillColor="#595959", symbolStrokeWidth=0,
                                          labelOffset=7.5, columnPadding=8, padding=0)),
)
ci_df = pd.DataFrame({"ci": [acf_ci, -acf_ci]})
ci_rules = alt.Chart(ci_df).mark_rule(color="black", strokeDash=[6, 4], strokeWidth=1.4).encode(
    y=alt.Y("ci:Q", scale=sy_c, axis=ax_c_y))
panel_c = alt.layer(hgrid(c_y_minor, sy_c, ax_c_y), bars, ci_rules,
                    *title_layers(*panel_titles[2])).properties(width=W_LEFT, height=H)

# ------------------------------------------------------------------ panel d
sx_d = alt.Scale(domain=[-0.137, 3.28], nice=False, zero=False)
sy_d = alt.Scale(domain=[-3.235, 1.913], nice=False, zero=False)
ax_d_x = alt.Axis(values=d_x_major, format="d", title="Frequency")
ax_d_y = alt.Axis(values=d_y_major, format="d", title="Periodogram (log10)")
pts_filled = alt.Chart(pg_s).mark_circle(size=25, opacity=1).encode(
    x=alt.X("freq:Q", scale=sx_d, axis=ax_d_x),
    y=alt.Y("pg:Q", scale=sy_d, axis=ax_d_y),
    color=alt.Color("series:N", scale=alt.Scale(domain=SER_LINE, range=COL_LINE),
                    legend=alt.Legend(orient="none", legendX=137.5, legendY=LEG_Y_BOTTOM + 1, direction="horizontal",
                                      title=None, symbolType="circle", symbolSize=25, symbolStrokeWidth=0,
                                      labelOffset=12.5, columnPadding=12.5, padding=0)),
    opacity=alt.Opacity("kind:N", scale=alt.Scale(domain=[K_NON, K_SEA], range=[0.12, 1.0]),
                        legend=alt.Legend(orient="none", legendX=-62, legendY=LEG_Y_BOTTOM + 1, direction="horizontal",
                                          title=None, symbolType="circle", symbolSize=25,
                                          symbolFillColor="#000000", symbolStrokeWidth=0,
                                          labelOffset=8.5, columnPadding=11, padding=0)),
)
pts_hollow = alt.Chart(pg_n).mark_point(filled=False, size=36, strokeWidth=0.7, opacity=0.22).encode(
    x=alt.X("freq:Q", scale=sx_d, axis=ax_d_x),
    y=alt.Y("pg:Q", scale=sy_d, axis=ax_d_y),
    stroke=alt.Stroke("series:N", scale=alt.Scale(domain=SER_LINE, range=COL_LINE), legend=None),
)
panel_d = alt.layer(vgrid(d_x_minor, sx_d, ax_d_x), hgrid(d_y_minor, sy_d, ax_d_y), pts_filled, pts_hollow,
                    *title_layers(*panel_titles[3])).properties(width=W_RIGHT, height=H)

# ------------------------------------------------------------------ compose
RES = dict(x="independent", y="independent", color="independent", strokeDash="independent",
           strokeWidth="independent", opacity="independent", stroke="independent")
chart = alt.concat(panel_a, panel_b, panel_c, panel_d, columns=2,
                   spacing={"row": 158, "column": 66}, bounds="flush",
                   padding={"left": -19, "top": 4, "right": -80, "bottom": -2}).resolve_scale(**RES)
chart = chart.configure_view(stroke="#7f7f7f", strokeWidth=1).configure_axis(
    domain=False, grid=True, gridColor=MAJOR_GRID, gridWidth=1, tickColor="#333333", tickSize=3.5,
    tickWidth=1, labelColor="#4d4d4d", labelFont=AX_FONT, labelFontSize=9, labelPadding=2,
    titleFont=AX_FONT, titleFontSize=13, titleFontWeight="normal", titleColor="#000000", titlePadding=6,
).configure_legend(labelFont=AX_FONT, labelFontSize=11, labelColor="#000000")

chart.save("out.html", embed_options={"renderer": "svg", "actions": False})
